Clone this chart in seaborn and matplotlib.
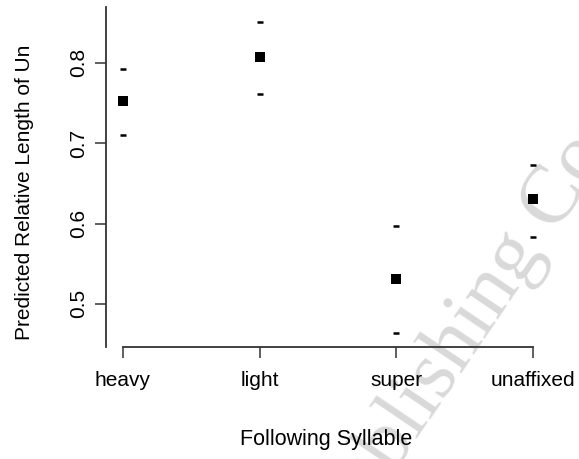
import matplotlib
matplotlib.use("Agg")
import matplotlib.pyplot as plt
import seaborn as sns
import pandas as pd

categories = ["heavy", "light", "super", "unaffixed"]
predicted = [0.7527, 0.8075, 0.531, 0.630]
upper = [0.7925, 0.8506, 0.597, 0.6723]
lower = [0.7104, 0.7614, 0.4633, 0.5836]
y_ticks = [0.5, 0.6, 0.7, 0.8]

df = pd.DataFrame({"syllable": categories, "pred": predicted, "upper": upper, "lower": lower})

sns.set_style("white")
plt.rcParams["font.family"] = ["Liberation Sans", "DejaVu Sans"]
plt.rcParams["text.color"] = "black"
plt.rcParams["axes.labelcolor"] = "black"

W, H = 579, 459
fig = plt.figure(figsize=(W / 100, H / 100), dpi=100)
ax = fig.add_axes([106 / W, 1 - 347 / H, (550 - 106) / W, (347 - 7) / H])
ax.patch.set_alpha(0)

# watermark
fig.text(344 / W, 1 - 547 / H, "Publishing Company", rotation=56, rotation_mode="anchor",
         ha="left", va="baseline", fontsize=60, color="#d9d9d9",
         family=["Liberation Serif", "DejaVu Serif"], zorder=-5)

sns.scatterplot(data=df, x="syllable", y="pred", marker="s", s=50, color="black",
                edgecolor="black", linewidth=0, ax=ax, zorder=3)
sns.scatterplot(data=df, x="syllable", y="upper", marker="_", s=14, color="black",
                linewidth=1.8, ax=ax, zorder=3)
sns.scatterplot(data=df, x="syllable", y="lower", marker="_", s=14, color="black",
                linewidth=1.8, ax=ax, zorder=3)

ax.set_xlim(-0.124, 3.124)
ax.set_ylim(0.4464, 0.8693)
ax.set_yticks(y_ticks)
ax.set_yticklabels([f"{v:.1f}" for v in y_ticks], rotation=90, va="center")
ax.set_xticks(range(len(categories)))
ax.set_xticklabels(categories)
ax.set_xlabel("")
ax.set_ylabel("")

for s in ["top", "right"]:
    ax.spines[s].set_visible(False)
for s in ["left", "bottom"]:
    ax.spines[s].set_color("#333333")
    ax.spines[s].set_linewidth(1.3)
ax.spines["bottom"].set_bounds(0, 3)
ax.tick_params(axis="both", which="major", bottom=True, left=True, direction="out",
               length=8, width=1.1, color="#333333", labelsize=15, labelcolor="black")
ax.tick_params(axis="y", pad=5)
ax.tick_params(axis="x", pad=9)

fig.text(326 / W, 1 - 440 / H, "Following Syllable", ha="center", va="center", fontsize=15.5)
fig.text(25 / W, 1 - 340 / H, "Predicted Relative Length of Un", ha="center", va="bottom",
         rotation=90, fontsize=15)

fig.savefig("out.png", dpi=100)
